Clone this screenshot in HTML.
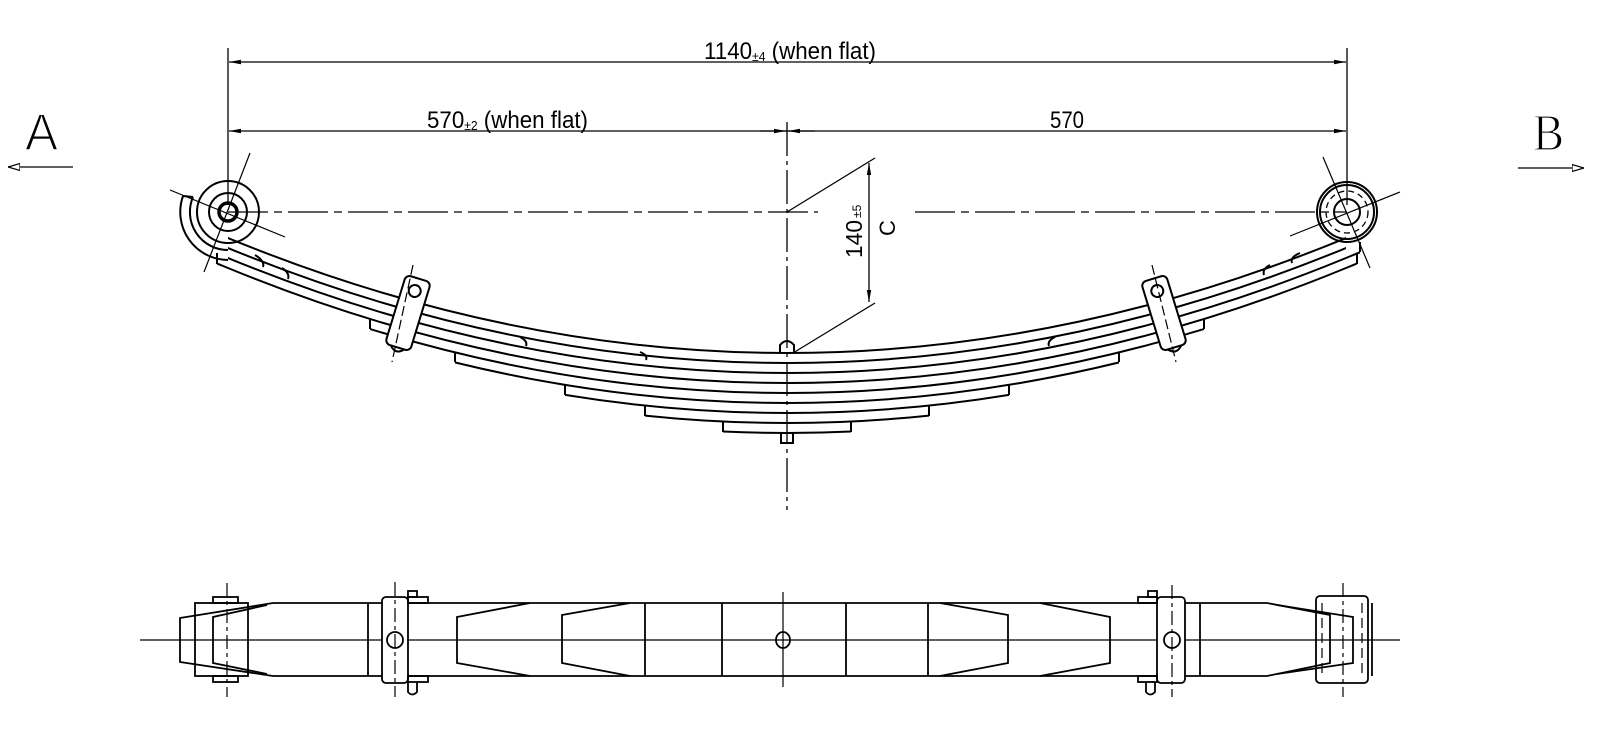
<!DOCTYPE html>
<html><head><meta charset="utf-8"><style>
html,body{margin:0;padding:0;background:#fff;}
svg{display:block;}
text{font-family:"Liberation Sans",sans-serif;fill:#000;}
</style></head><body>
<svg width="1600" height="749" viewBox="0 0 1600 749" xmlns="http://www.w3.org/2000/svg">
<defs>
<marker id="ar" viewBox="0 0 12 6" refX="12" refY="3" markerWidth="12" markerHeight="6" markerUnits="userSpaceOnUse" orient="auto-start-reverse"><path d="M0,0.8 L12,3 L0,5.2 Z" fill="#000"/></marker>
<marker id="ao" viewBox="0 0 12 8" refX="12" refY="4" markerWidth="12" markerHeight="8" markerUnits="userSpaceOnUse" orient="auto"><path d="M0,0.5 L12,4 L0,7.5 Z" fill="#fff" stroke="#000" stroke-width="1.2"/></marker>
<clipPath id="c0"><rect x="228" y="0" width="1118" height="749"/></clipPath>
<clipPath id="c1"><rect x="228" y="0" width="1132" height="749"/></clipPath>
<clipPath id="c2"><rect x="217" y="0" width="1140" height="749"/></clipPath>
<clipPath id="c3"><rect x="370" y="0" width="834" height="749"/></clipPath>
<clipPath id="c4"><rect x="455" y="0" width="664" height="749"/></clipPath>
<clipPath id="c5"><rect x="565" y="0" width="444" height="749"/></clipPath>
<clipPath id="c6"><rect x="645" y="0" width="284" height="749"/></clipPath>
<clipPath id="c7"><rect x="723" y="0" width="128" height="749"/></clipPath>
<path id="lf" d="M180,218.3 L228,238 Q787,468 1346,238 L1394,218.3" fill="none"/>
</defs>

<g stroke="#000" stroke-width="1.3" fill="none">
<line x1="228" y1="48" x2="228" y2="205"/>
<line x1="1347" y1="48" x2="1347" y2="205"/>
<line x1="229" y1="62" x2="1346" y2="62" marker-start="url(#ar)" marker-end="url(#ar)"/>
<line x1="229" y1="131" x2="787" y2="131" marker-start="url(#ar)"/>
<line x1="760" y1="131" x2="786" y2="131" marker-end="url(#ar)"/>
<line x1="787" y1="131" x2="1346" y2="131" marker-end="url(#ar)"/>
<line x1="815" y1="131" x2="788" y2="131" marker-end="url(#ar)"/>
<line x1="787" y1="122" x2="787" y2="510" stroke-dasharray="34,5,4,5"/>
<line x1="228" y1="212" x2="818" y2="212" stroke-dasharray="40,6,8,6"/>
<line x1="915" y1="212" x2="1347" y2="212" stroke-dasharray="40,6,8,6"/>
<line x1="787" y1="212" x2="875" y2="158"/>
<line x1="793" y1="353" x2="875" y2="303"/>
<line x1="869" y1="163" x2="869" y2="302" marker-start="url(#ar)" marker-end="url(#ar)"/>
<line x1="73" y1="167" x2="8" y2="167" marker-end="url(#ao)"/>
<line x1="1518" y1="168" x2="1584" y2="168" marker-end="url(#ao)"/>
</g>
<text x="704" y="59" font-size="24" textLength="172" lengthAdjust="spacingAndGlyphs">1140<tspan font-size="13" dy="2">±4</tspan><tspan dy="-2"> (when flat)</tspan></text>
<text x="427" y="128" font-size="24" textLength="161" lengthAdjust="spacingAndGlyphs">570<tspan font-size="13" dy="2">±2</tspan><tspan dy="-2"> (when flat)</tspan></text>
<text x="1050" y="128" font-size="24" textLength="34" lengthAdjust="spacingAndGlyphs">570</text>
<text transform="translate(862,258) rotate(-90)" font-size="23" textLength="38" lengthAdjust="spacingAndGlyphs">140</text>
<text transform="translate(861,218) rotate(-90)" font-size="12">±5</text>
<text transform="translate(895,236) rotate(-90)" font-size="22">C</text>
<text x="25" y="150" font-size="52" textLength="33" lengthAdjust="spacingAndGlyphs" stroke="#fff" stroke-width="1.6">A</text>
<text x="1533" y="150" font-size="52" textLength="31" lengthAdjust="spacingAndGlyphs" style="font-family:'Liberation Serif',serif" stroke="#fff" stroke-width="1.2">B</text>

<g stroke="#000" stroke-width="2" fill="none">
<use href="#lf" clip-path="url(#c0)"/>
<use href="#lf" y="10" clip-path="url(#c0)"/>
<use href="#lf" y="20" clip-path="url(#c1)"/>
<use href="#lf" y="30" clip-path="url(#c2)"/>
<use href="#lf" y="40" clip-path="url(#c3)"/>
<use href="#lf" y="50" clip-path="url(#c4)"/>
<use href="#lf" y="60" clip-path="url(#c5)"/>
<use href="#lf" y="70" clip-path="url(#c6)"/>
<use href="#lf" y="80" clip-path="url(#c7)"/>
<line x1="1360" y1="242" x2="1360" y2="252"/>
<line x1="217" y1="253" x2="217" y2="264"/><line x1="1357" y1="253" x2="1357" y2="264"/>
<line x1="370" y1="319" x2="370" y2="329"/><line x1="1204" y1="319" x2="1204" y2="329"/>
<line x1="455" y1="352" x2="455" y2="362"/><line x1="1119" y1="352" x2="1119" y2="362"/>
<line x1="565" y1="385" x2="565" y2="395"/><line x1="1009" y1="385" x2="1009" y2="395"/>
<line x1="645" y1="406" x2="645" y2="416"/><line x1="929" y1="406" x2="929" y2="416"/>
<line x1="723" y1="421" x2="723" y2="432"/><line x1="851" y1="421" x2="851" y2="432"/>
<path d="M255,255 q10,6 8,12"/><path d="M1300,253 q-10,4 -8,10"/>
<path d="M282,268 q8,5 6,11"/><path d="M1270,265 q-8,4 -6,10"/>
<path d="M520,337 q8,4 6,9"/><path d="M1055,337 q-8,4 -6,9"/>
<path d="M640,352 q8,3 6,8"/>
<path d="M228,250 A38,38 0 0 1 193,197"/>
<path d="M228,260 A48,48 0 0 1 183,196"/>
<line x1="183" y1="196" x2="193" y2="197"/>
<circle cx="228" cy="212" r="31"/>
<circle cx="228" cy="212" r="19"/>
<circle cx="228" cy="212" r="9" stroke-width="3.5"/>
<circle cx="1347" cy="212" r="30"/>
<circle cx="1347" cy="212" r="27"/>
<circle cx="1347" cy="212" r="21" stroke-dasharray="6,4" stroke-width="1.3"/>
<circle cx="1347" cy="212" r="13"/>
<path d="M780,353 L780,345 Q787,337 794,345 L794,353"/>
<rect x="781" y="433" width="12" height="10"/>
<g transform="translate(408,313) rotate(17)">
<rect x="-13" y="-36" width="26" height="72" rx="5" fill="#fff"/>
<circle cx="0" cy="-23" r="6"/>
<path d="M-7,36 q7,8 14,0"/>
</g>
<g transform="translate(1164,313) rotate(-17)">
<rect x="-13" y="-36" width="26" height="72" rx="5" fill="#fff"/>
<circle cx="0" cy="-23" r="6"/>
<path d="M-7,36 q7,8 14,0"/>
</g>
</g>
<g stroke="#000" stroke-width="1.2" fill="none">
<line x1="250" y1="153" x2="204" y2="272"/>
<line x1="170" y1="190" x2="285" y2="237"/>
<line x1="1323" y1="157" x2="1370" y2="268"/>
<line x1="1290" y1="236" x2="1400" y2="192"/>
<line x1="413" y1="265" x2="392" y2="362" stroke-dasharray="10,4"/>
<line x1="1152" y1="265" x2="1176" y2="362" stroke-dasharray="10,4"/>
</g>

<g stroke="#000" stroke-width="1.8" fill="none">
<line x1="140" y1="640" x2="1400" y2="640" stroke-width="1.2"/>
<line x1="273" y1="603" x2="1267" y2="603"/>
<line x1="273" y1="676" x2="1267" y2="676"/>
<path d="M273,603 L180,618 L180,662 L273,676"/>
<rect x="195" y="603" width="53" height="73" fill="none"/>
<path d="M267,605 L213,617 L213,663 L267,674"/>
<rect x="213" y="597" width="25" height="6"/>
<rect x="213" y="676" width="25" height="6"/>
<line x1="227" y1="583" x2="227" y2="697" stroke-width="1.2" stroke-dasharray="14,4,4,4"/>
<line x1="368" y1="603" x2="368" y2="676"/>
<rect x="382" y="597" width="26" height="86" rx="4" fill="#fff"/>
<rect x="408" y="597" width="20" height="6"/>
<rect x="408" y="591" width="9" height="6"/>
<rect x="408" y="676" width="20" height="6"/>
<path d="M408,682 L408,692 Q412,697 417,692 L417,682"/>
<circle cx="395" cy="640" r="8"/>
<line x1="395" y1="582" x2="395" y2="697" stroke-width="1.2" stroke-dasharray="14,4,4,4"/>
<path d="M530,603 L457,617 L457,663 L530,676"/>
<path d="M630,603 L562,615 L562,663 L630,676"/>
<line x1="645" y1="603" x2="645" y2="676"/>
<line x1="722" y1="603" x2="722" y2="676"/>
<ellipse cx="783" cy="640" rx="7" ry="8"/>
<line x1="783" y1="592" x2="783" y2="687" stroke-width="1.2"/>
<line x1="846" y1="603" x2="846" y2="676"/>
<line x1="928" y1="603" x2="928" y2="676"/>
<path d="M940,603 L1008,615 L1008,663 L940,676"/>
<path d="M1040,603 L1110,617 L1110,663 L1040,676"/>
<rect x="1157" y="597" width="28" height="86" rx="4" fill="#fff"/>
<rect x="1138" y="597" width="19" height="6"/>
<rect x="1148" y="591" width="9" height="6"/>
<rect x="1138" y="676" width="19" height="6"/>
<path d="M1146,682 L1146,692 Q1150,697 1155,692 L1155,682"/>
<circle cx="1172" cy="640" r="8"/>
<line x1="1172" y1="585" x2="1172" y2="697" stroke-width="1.2" stroke-dasharray="14,4,4,4"/>
<line x1="1200" y1="603" x2="1200" y2="676"/>
<path d="M1267,603 L1330,615 L1330,663 L1267,676"/>
<path d="M1277,605 L1353,617 L1353,663 L1277,674"/>
<rect x="1316" y="596" width="52" height="87" rx="4"/>
<line x1="1372" y1="603" x2="1372" y2="676"/>
<line x1="1343" y1="583" x2="1343" y2="697" stroke-width="1.2" stroke-dasharray="14,4,4,4"/>
<line x1="1322" y1="603" x2="1322" y2="676" stroke-width="1.2" stroke-dasharray="10,5"/>
<line x1="1362" y1="603" x2="1362" y2="676" stroke-width="1.2" stroke-dasharray="10,5"/>
</g>
</svg>
</body></html>
